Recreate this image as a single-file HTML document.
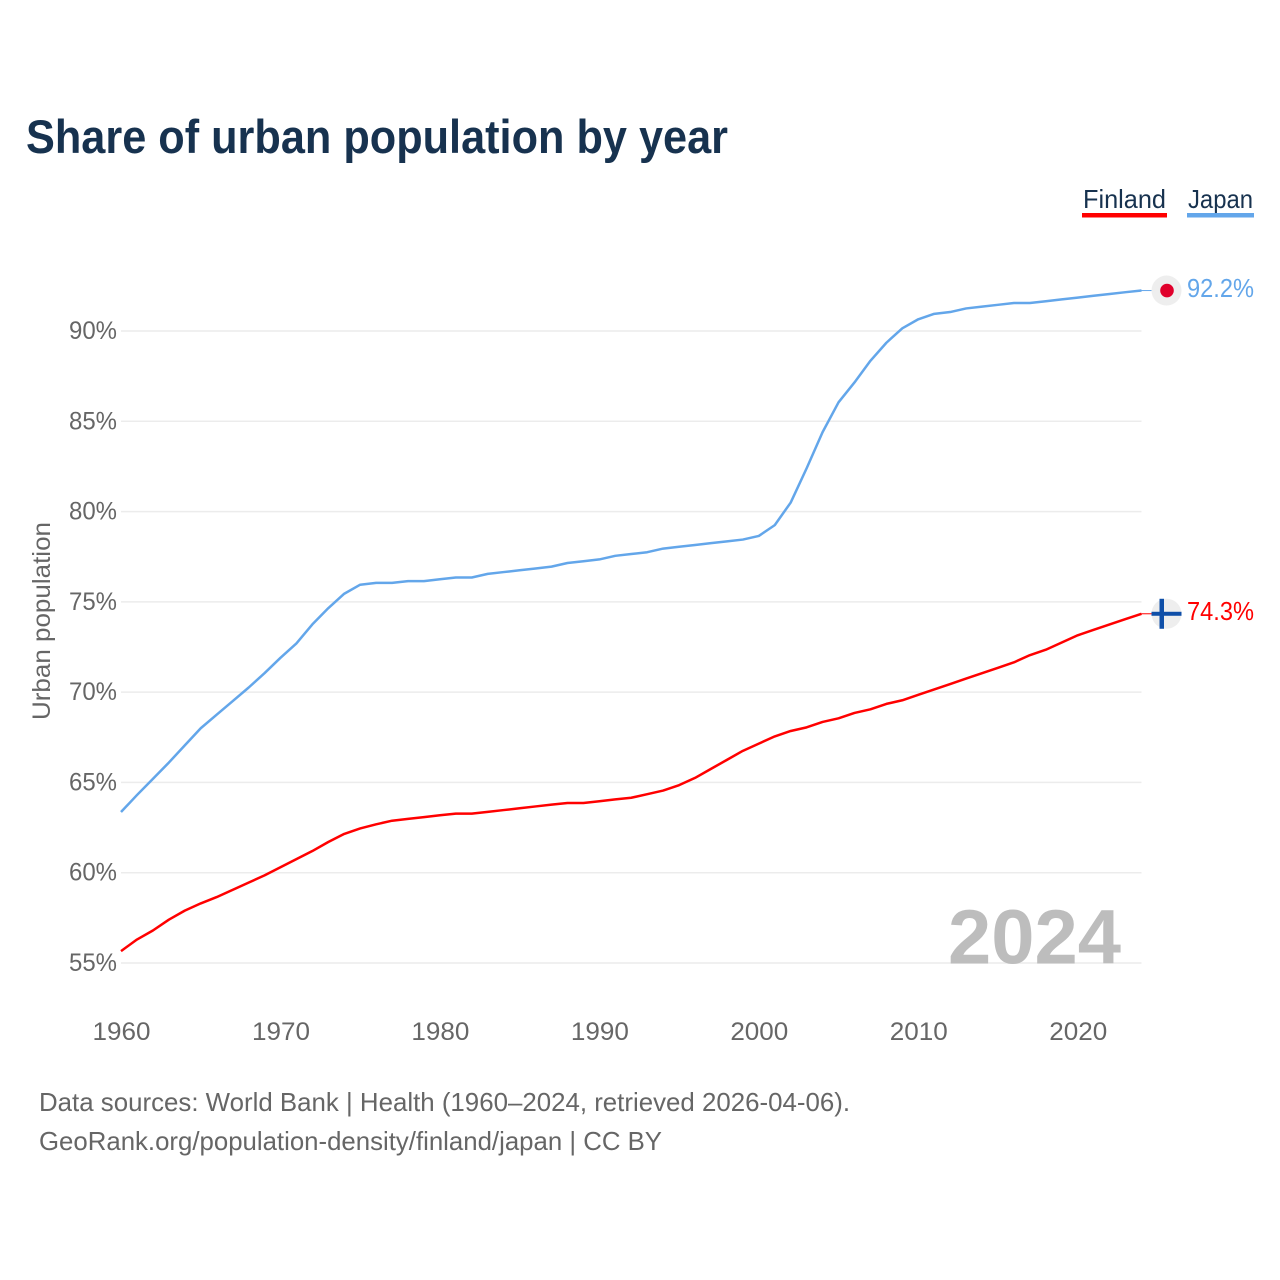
<!DOCTYPE html>
<html lang="en">
<head>
<meta charset="utf-8">
<title>Share of urban population by year</title>
<style>
html,body{margin:0;padding:0;background:#fff;width:1280px;height:1280px;overflow:hidden}
svg{display:block}
text{font-family:"Liberation Sans",sans-serif}
</style>
</head>
<body>
<svg id="chart" xmlns="http://www.w3.org/2000/svg" width="1280" height="1280" viewBox="0 0 1280 1280">
  <rect width="1280" height="1280" fill="#ffffff"/>
  <text x="26" y="153" font-size="47" font-weight="700" fill="#17324f" textLength="702" lengthAdjust="spacingAndGlyphs">Share of urban population by year</text>

  <g>
    <text x="1083" y="208" font-size="26" fill="#17324f" textLength="83" lengthAdjust="spacingAndGlyphs">Finland</text>
    <rect x="1082" y="213" width="85" height="4.5" fill="#ff0000"/>
    <text x="1188" y="208" font-size="26" fill="#17324f" textLength="65" lengthAdjust="spacingAndGlyphs">Japan</text>
    <rect x="1187" y="213" width="67" height="4.5" fill="#63a6ea"/>
  </g>

  <g id="grid"></g>
  <g id="yticks"></g>
  <g id="xticks"></g>

  <text transform="translate(50,720) rotate(-90)" font-size="25" fill="#666666" textLength="198" lengthAdjust="spacingAndGlyphs">Urban population</text>

  <text x="948" y="963.5" font-size="77" font-weight="700" fill="#bdbdbd" textLength="173" lengthAdjust="spacingAndGlyphs">2024</text>

  <path id="line-japan" fill="none" stroke="#63a6ea" stroke-width="2.5" stroke-linejoin="round"/>
  <path id="line-finland" fill="none" stroke="#ff0000" stroke-width="2.5" stroke-linejoin="round"/>

  <g id="end-markers"></g>

  <g>
    <text x="39" y="1111" font-size="26" fill="#666666" textLength="811" lengthAdjust="spacingAndGlyphs">Data sources: World Bank | Health (1960–2024, retrieved 2026-04-06).</text>
    <text x="39" y="1150" font-size="26" fill="#666666" textLength="623" lengthAdjust="spacingAndGlyphs">GeoRank.org/population-density/finland/japan | CC BY</text>
  </g>
</svg>
<script>
const startYear = 1960;
const finlandValues = [55.66,56.3,56.8,57.4,57.9,58.3,58.65,59.05,59.45,59.85,60.3,60.75,61.2,61.7,62.15,62.45,62.68,62.88,62.98,63.08,63.18,63.27,63.27,63.37,63.47,63.57,63.67,63.77,63.86,63.86,63.96,64.06,64.15,64.35,64.55,64.85,65.25,65.75,66.25,66.75,67.15,67.55,67.85,68.05,68.35,68.55,68.85,69.05,69.35,69.55,69.85,70.15,70.45,70.75,71.05,71.35,71.65,72.05,72.35,72.75,73.15,73.45,73.75,74.05,74.34];
const japanValues = [63.36,64.3,65.2,66.1,67.05,68.0,68.75,69.5,70.25,71.05,71.9,72.7,73.75,74.65,75.45,75.95,76.05,76.05,76.15,76.15,76.25,76.35,76.35,76.55,76.65,76.75,76.85,76.95,77.15,77.25,77.35,77.55,77.65,77.75,77.95,78.05,78.15,78.25,78.35,78.45,78.65,79.25,80.5,82.4,84.4,86.05,87.15,88.35,89.35,90.15,90.65,90.95,91.05,91.25,91.35,91.45,91.55,91.55,91.65,91.75,91.85,91.95,92.05,92.15,92.24];
const yTicks = [55,60,65,70,75,80,85,90];
const xTicks = [1960,1970,1980,1990,2000,2010,2020];

const NS = 'http://www.w3.org/2000/svg';
const xScale = year => 121 + (year - 1960) * (1020.5 / 64);
const yScale = value => 963 - (value - 55) * (632 / 35);

function make(tag, attrs, parent, content) {
  const el = document.createElementNS(NS, tag);
  for (const k in attrs) el.setAttribute(k, attrs[k]);
  if (content !== undefined) el.textContent = content;
  parent.appendChild(el);
  return el;
}

const grid = document.getElementById('grid');
const yGroup = document.getElementById('yticks');
yTicks.forEach(t => {
  const line = make('line', {x1: xScale(1960), x2: xScale(2024), y1: yScale(t), y2: yScale(t), stroke: '#ececec', 'stroke-width': 1.5}, grid);
  
  
  const label = make('text', {x: 117, y: yScale(t) + 8, 'text-anchor': 'end', 'font-size': 25, fill: '#666666', textLength: 48, lengthAdjust: 'spacingAndGlyphs'}, yGroup, t + '%');
  
  
});

const xGroup = document.getElementById('xticks');
xTicks.forEach(t => {
  const label = make('text', {x: xScale(t) + 0.5, y: 1040, 'text-anchor': 'middle', 'font-size': 25, fill: '#666666', textLength: 58, lengthAdjust: 'spacingAndGlyphs'}, xGroup, String(t));
  
  
});

const linePath = values => values.map((v, i) => (i ? 'L' : 'M') + xScale(startYear + i).toFixed(2) + ' ' + yScale(v).toFixed(2)).join('');
document.getElementById('line-finland').setAttribute('d', linePath(finlandValues));
document.getElementById('line-japan').setAttribute('d', linePath(japanValues));

const endGroup = document.getElementById('end-markers');
const lastYear = startYear + japanValues.length - 1;
const endX = xScale(lastYear);
const markerX = 1166.5;

// Japan end marker
const jv = japanValues[japanValues.length - 1];
const jy = yScale(jv);
const jConn = make('line', {x1: endX, x2: markerX - 15, y1: jy, y2: jy, stroke: '#63a6ea', 'stroke-width': 1}, endGroup);


const jBadge = make('circle', {cx: markerX, cy: jy, r: 15, fill: '#eeeeee'}, endGroup);


const jDot = make('circle', {cx: markerX + 0.5, cy: jy, r: 6.8, fill: '#e0002b'}, endGroup);


const jLabel = make('text', {x: 1187, y: jy + 6.2, 'font-size': 26, fill: '#63a6ea', textLength: 67, lengthAdjust: 'spacingAndGlyphs'}, endGroup, jv.toFixed(1) + '%');



// Finland end marker
const fv = finlandValues[finlandValues.length - 1];
const fy = yScale(fv);
const fConn = make('line', {x1: endX, x2: markerX - 15, y1: fy, y2: fy, stroke: '#ff0000', 'stroke-width': 1}, endGroup);


const fBadge = make('circle', {cx: markerX, cy: fy, r: 15, fill: '#eeeeee'}, endGroup);


const fH = make('rect', {x: markerX - 15, y: fy - 2, width: 30, height: 4, fill: '#0f4fa8'}, endGroup);


const fV = make('rect', {x: markerX - 7, y: fy - 15, width: 4.5, height: 30, fill: '#0f4fa8'}, endGroup);


const fLabel = make('text', {x: 1187, y: fy + 6, 'font-size': 26, fill: '#ff0000', textLength: 67, lengthAdjust: 'spacingAndGlyphs'}, endGroup, fv.toFixed(1) + '%');


</script>
</body>
</html>
